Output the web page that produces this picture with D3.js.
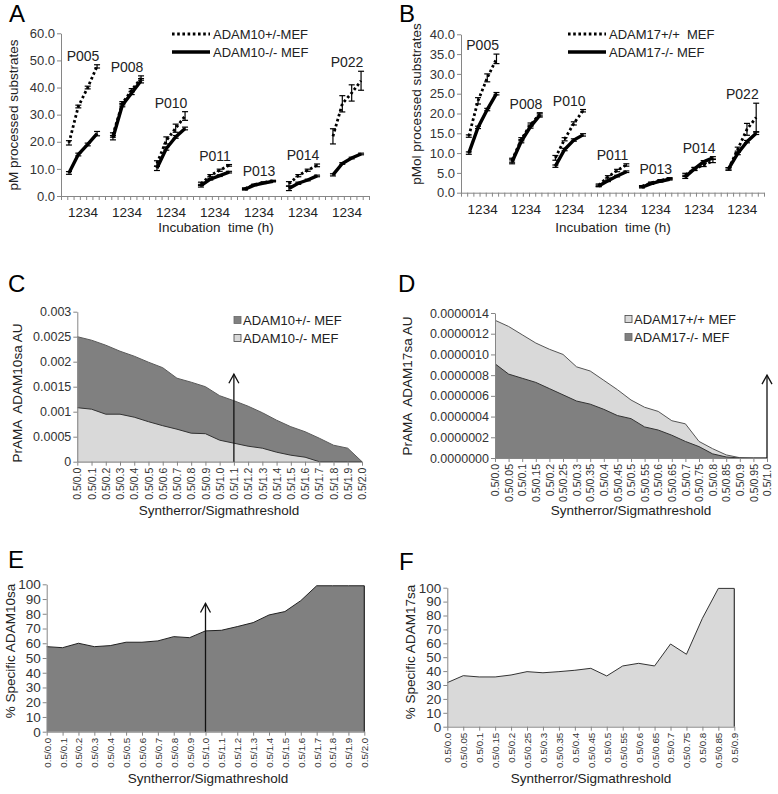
<!DOCTYPE html>
<html>
<head>
<meta charset="utf-8">
<script src="https://cdn.jsdelivr.net/npm/d3@7"></script>
<style>
  body { margin: 0; background: #fff; }
  svg { font-family: Arial, "Liberation Sans", sans-serif; }
  text { white-space: pre; }
</style>
</head>
<body>
<svg id="fig" width="778" height="794"></svg>
<script>
// ---------- data ----------
const hours = [1, 2, 3, 4];
const peptides = ['P005', 'P008', 'P010', 'P011', 'P013', 'P014', 'P022'];

// A: pM processed substrates, ADAM10+/- and ADAM10-/- MEF (one row per peptide)
const a10Het = [[19.6, 33.0, 40.0, 47.8], [22.5, 34.2, 39.0, 43.5], [12.0, 20.5, 25.0, 29.5],
  [4.5, 7.5, 9.5, 11.3], [2.7, 4.2, 5.0, 5.6], [4.5, 7.5, 9.5, 11.3], [22.0, 34.0, 38.0, 42.5]];
const a10HetErr = [[0.8, 0.5, 0.5, 0.6], [0.8, 0.6, 0.6, 0.8], [1.0, 1.3, 1.5, 1.6],
  [0.6, 0.4, 0.4, 0.3], [0.3, 0.2, 0.2, 0.2], [0.8, 0.4, 0.4, 0.5], [2.8, 3.0, 3.0, 3.5]];
const a10Ko = [[8.5, 15.3, 19.0, 23.0], [21.5, 33.5, 38.0, 42.5], [10.2, 17.5, 21.8, 24.9],
  [3.8, 6.2, 7.5, 8.8], [2.5, 4.0, 4.8, 5.4], [2.8, 4.7, 5.9, 7.4], [7.8, 12.0, 14.0, 15.5]];
const a10KoErr = [[0.5, 0.5, 0.5, 0.8], [0.8, 0.6, 0.6, 0.8], [0.8, 0.6, 0.5, 0.5],
  [0.5, 0.3, 0.3, 0.3], [0.3, 0.2, 0.2, 0.2], [0.8, 0.4, 0.3, 0.3], [0.4, 0.3, 0.3, 0.3]];

// B: pMol processed substrates, ADAM17+/+ and ADAM17-/- MEF
const b17Wt = [[14.3, 23.2, 29.0, 33.8], [8.2, 13.5, 17.2, 19.8], [8.8, 13.5, 17.5, 20.7],
  [1.9, 4.0, 5.6, 7.0], [1.6, 2.5, 3.1, 3.6], [4.5, 6.0, 7.0, 8.0], [6.0, 11.0, 16.0, 19.0]];
const b17WtErr = [[0.3, 0.8, 1.0, 1.2], [0.5, 0.4, 0.4, 0.4], [0.6, 0.4, 0.4, 0.3],
  [0.3, 0.3, 0.3, 0.3], [0.2, 0.2, 0.2, 0.2], [0.4, 0.4, 0.4, 0.4], [0.3, 0.5, 1.5, 3.6]];
const b17Ko = [[10.0, 16.5, 21.0, 25.0], [7.8, 13.0, 16.7, 19.5], [6.7, 10.9, 13.3, 14.6],
  [1.7, 3.0, 4.2, 5.3], [1.4, 2.3, 2.9, 3.4], [4.0, 6.0, 7.8, 8.8], [6.0, 9.9, 12.9, 15.0]];
const b17KoErr = [[0.3, 0.3, 0.3, 0.3], [0.5, 0.4, 0.4, 0.4], [0.3, 0.3, 0.3, 0.3],
  [0.2, 0.2, 0.2, 0.2], [0.2, 0.2, 0.2, 0.2], [0.4, 0.3, 0.3, 0.3], [0.3, 0.3, 0.3, 0.3]];

// C / E: thresholds for ADAM10
const thrC = ['0.5/0.0', '0.5/0.1', '0.5/0.2', '0.5/0.3', '0.5/0.4', '0.5/0.5', '0.5/0.6',
  '0.5/0.7', '0.5/0.8', '0.5/0.9', '0.5/1.0', '0.5/1.1', '0.5/1.2', '0.5/1.3', '0.5/1.4',
  '0.5/1.5', '0.5/1.6', '0.5/1.7', '0.5/1.8', '0.5/1.9', '0.5/2.0'];
const c10Het = [0.0025, 0.00243, 0.00233, 0.00221, 0.00211, 0.00199, 0.00188, 0.00167, 0.00159,
  0.0015, 0.00132, 0.00122, 0.00111, 0.00098, 0.00083, 0.0007, 0.0006, 0.00047, 0.00033, 0.00027, 0];
const c10Ko = [0.00108, 0.00105, 0.00095, 0.00095, 0.00089, 0.0008, 0.00072, 0.00065, 0.00057,
  0.00056, 0.00043, 0.00037, 0.00031, 0.00027, 0.00019, 0.00013, 0.00009, 0, 0, 0, 0];
const e10Specific = [57.7, 57.0, 60.0, 57.7, 58.4, 60.7, 60.7, 61.6, 64.5, 63.8, 68.4, 68.8,
  71.3, 74.0, 79.2, 81.5, 88.9, 99, 99, 99, 99];

// D / F: thresholds for ADAM17
const thrD = ['0.5/0.0', '0.5/0.05', '0.5/0.1', '0.5/0.15', '0.5/0.2', '0.5/0.25', '0.5/0.3',
  '0.5/0.35', '0.5/0.4', '0.5/0.45', '0.5/0.5', '0.5/0.55', '0.5/0.6', '0.5/0.65', '0.5/0.7',
  '0.5/0.75', '0.5/0.8', '0.5/0.85', '0.5/0.9', '0.5/0.95', '0.5/1.0'];
const d17Wt = [1.33e-6, 1.27e-6, 1.19e-6, 1.11e-6, 1.05e-6, 1.0e-6, 0.88e-6, 0.84e-6, 0.75e-6,
  0.66e-6, 0.56e-6, 0.49e-6, 0.45e-6, 0.36e-6, 0.33e-6, 0.16e-6, 0.09e-6, 0.03e-6, 0.003e-6, 0, 0];
const d17Ko = [0.91e-6, 0.81e-6, 0.77e-6, 0.73e-6, 0.67e-6, 0.61e-6, 0.55e-6, 0.52e-6, 0.47e-6,
  0.41e-6, 0.38e-6, 0.30e-6, 0.27e-6, 0.22e-6, 0.16e-6, 0.11e-6, 0.04e-6, 0.01e-6, 0, 0, 0];
const thrF = thrD.slice(0, 19);
const f17Specific = [31.7, 36.7, 35.8, 35.8, 37.2, 39.6, 38.8, 39.6, 40.6, 42.0, 36.5, 43.7,
  45.6, 43.7, 59.5, 52.1, 78.0, 99.5, 99.5];

// ---------- drawing ----------
const svg = d3.select('#fig');
const axisColor = '#868686';
const dark = '#808080';
const light = '#d9d9d9';

function styleAxis(sel, fontSize) {
  sel.select('.domain').attr('stroke', axisColor);
  sel.selectAll('.tick line').attr('stroke', axisColor);
  sel.selectAll('.tick text').attr('fill', '#333').style('font-size', fontSize + 'px');
}

function letter(t, x, y) {
  svg.append('text').attr('x', x).attr('y', y).style('font-size', '24px').text(t);
}

function yTitle(t, x, y) {
  svg.append('text').attr('transform', `translate(${x},${y}) rotate(-90)`)
    .attr('text-anchor', 'middle').style('font-size', '13.5px').attr('fill', '#222').text(t);
}

function xTitle(t, x, y) {
  svg.append('text').attr('x', x).attr('y', y).attr('text-anchor', 'middle')
    .style('font-size', '13.5px').attr('fill', '#222').text(t);
}

// time course panels (A, B)
function timePanel(o) {
  const g = svg.append('g');
  const x = d3.scaleLinear().domain([0, peptides.length]).range([o.left, o.right]);
  const y = d3.scaleLinear().domain([0, o.yMax]).range([o.bottom, o.top]);
  const px = (gi, hi) => x(gi + 0.5 + (hours[hi] - 2.5) * 0.213);

  g.append('g').attr('transform', `translate(${o.left},0)`)
    .call(d3.axisLeft(y).tickValues(d3.range(0, o.yMax + 0.01, o.yStep))
      .tickFormat(d3.format('.1f')).tickSize(4).tickSizeOuter(0).tickPadding(2))
    .call(s => styleAxis(s, 13));

  g.append('g').attr('transform', `translate(0,${o.bottom})`)
    .call(d3.axisBottom(x).tickValues(d3.range(0, peptides.length * 7 + 1).map(i => i / 7))
      .tickFormat('').tickSize(4).tickSizeOuter(0))
    .call(s => styleAxis(s, 12));

  g.selectAll('.hrs').data(peptides).join('text')
    .attr('x', (d, i) => x(i + 0.5)).attr('y', o.bottom + 21)
    .attr('text-anchor', 'middle').style('font-size', '13.5px').attr('fill', '#222')
    .text(hours.join(''));

  const series = [
    { vals: o.s1, err: o.e1, dash: '2.6,2.6', w: 2.8 },
    { vals: o.s2, err: o.e2, dash: null, w: 3.4 }
  ];
  series.forEach(s => {
    peptides.forEach((p, gi) => {
      const line = d3.line().x((v, hi) => px(gi, hi)).y(v => y(v));
      g.append('path').datum(s.vals[gi]).attr('d', line)
        .attr('fill', 'none').attr('stroke', '#000').attr('stroke-width', s.w)
        .attr('stroke-dasharray', s.dash);
      const eb = g.append('g').attr('stroke', '#000').attr('stroke-width', 1.2);
      s.vals[gi].forEach((v, hi) => {
        const cx = px(gi, hi), lo = y(v - s.err[gi][hi]), hiY = y(v + s.err[gi][hi]);
        eb.append('line').attr('x1', cx).attr('x2', cx).attr('y1', lo).attr('y2', hiY);
        eb.append('line').attr('x1', cx - 3).attr('x2', cx + 3).attr('y1', lo).attr('y2', lo);
        eb.append('line').attr('x1', cx - 3).attr('x2', cx + 3).attr('y1', hiY).attr('y2', hiY);
      });
    });
  });

  // peptide labels above each group
  g.selectAll('.pep').data(peptides).join('text')
    .attr('x', (d, i) => x(i + 0.5))
    .attr('y', (d, i) => {
      const top = d3.max([...o.s1[i].map((v, k) => v + o.e1[i][k]), ...o.s2[i].map((v, k) => v + o.e2[i][k])]);
      return y(top) - 4;
    })
    .attr('text-anchor', 'middle').style('font-size', '14px').attr('fill', '#222').text(d => d);

  // legend
  const lg = g.append('g');
  [[o.names[0], '2.6,2.6', 2.8], [o.names[1], null, 3.4]].forEach((d, i) => {
    const ly = o.legY + i * 18;
    lg.append('line').attr('x1', o.legX).attr('x2', o.legX + 38).attr('y1', ly).attr('y2', ly)
      .attr('stroke', '#000').attr('stroke-width', d[2]).attr('stroke-dasharray', d[1]);
    lg.append('text').attr('x', o.legX + 41).attr('y', ly).attr('dy', '0.35em')
      .style('font-size', '13px').attr('fill', '#222').text(d[0]);
  });
}

// threshold area panels (C, D, E, F)
function areaPanel(o) {
  const g = svg.append('g');
  const x = d3.scalePoint().domain(o.cats).range([o.left, o.right]);
  const y = d3.scaleLinear().domain([0, o.yMax]).range([o.bottom, o.top]);
  const area = d3.area().x((d, i) => x(o.cats[i])).y0(y(0)).y1(d => y(d));
  const line = d3.line().x((d, i) => x(o.cats[i])).y(d => y(d));

  o.series.forEach(s => {
    g.append('path').datum(s.vals).attr('d', area).attr('fill', s.fill);
    g.append('path').datum(s.vals).attr('d', line).attr('fill', 'none')
      .attr('stroke', s.stroke).attr('stroke-width', 1);
    if (s.closeRight) {
      const last = s.vals[s.vals.length - 1];
      g.append('line').attr('x1', o.right).attr('x2', o.right).attr('y1', y(last)).attr('y2', y(0))
        .attr('stroke', s.stroke).attr('stroke-width', 1.2);
    }
  });

  g.append('g').attr('transform', `translate(${o.left},0)`)
    .call(d3.axisLeft(y).tickValues(o.yTicks).tickFormat(o.fmt).tickSize(4).tickSizeOuter(0).tickPadding(2))
    .call(s => styleAxis(s, o.yFont));

  g.append('g').attr('transform', `translate(0,${o.bottom})`)
    .call(d3.axisBottom(x).tickSize(4).tickSizeOuter(0))
    .call(s => styleAxis(s, o.xFont))
    .selectAll('.tick text')
    .attr('transform', 'rotate(-90)').attr('x', -6).attr('y', 0).attr('dy', '0.35em')
    .attr('text-anchor', 'end');

  if (o.arrow) {
    const ax = x(o.arrow.cat), ay = y(o.arrow.tip);
    const ag = g.append('g').attr('stroke', '#111').attr('stroke-width', 1.3).attr('fill', 'none');
    ag.append('line').attr('x1', ax).attr('x2', ax).attr('y1', y(0)).attr('y2', ay);
    ag.append('path').attr('d', `M${ax - 5},${ay + 9}L${ax},${ay}L${ax + 5},${ay + 9}`);
  }

  if (o.legend) {
    o.legend.forEach((d, i) => {
      const ly = o.legY + i * 18;
      g.append('rect').attr('x', o.legX).attr('y', ly - 3.5).attr('width', 7).attr('height', 7)
        .attr('fill', d.fill).attr('stroke', d.stroke).attr('stroke-width', 0.8);
      g.append('text').attr('x', o.legX + 9).attr('y', ly).attr('dy', '0.35em')
        .style('font-size', '13px').attr('fill', '#222').text(d.name);
    });
  }
}

// ---------- panels ----------
letter('A', 9, 22);
timePanel({ left: 61, right: 369, top: 33.3, bottom: 196, yMax: 60, yStep: 10,
  s1: a10Het, e1: a10HetErr, s2: a10Ko, e2: a10KoErr,
  names: ['ADAM10+/-MEF', 'ADAM10-/- MEF'], legX: 172, legY: 34 });
yTitle('pM processed substrates', 18, 115);
xTitle('Incubation  time (h)', 216, 232);

letter('B', 399, 22);
timePanel({ left: 461, right: 764, top: 34.3, bottom: 192.7, yMax: 40, yStep: 5,
  s1: b17Wt, e1: b17WtErr, s2: b17Ko, e2: b17KoErr,
  names: ['ADAM17+/+  MEF', 'ADAM17-/- MEF'], legX: 568, legY: 34 });
yTitle('pMol processed substrates', 421, 104);
xTitle('Incubation  time (h)', 613, 232);

letter('C', 8, 292);
areaPanel({ cats: thrC, left: 77.3, right: 362, top: 311.7, bottom: 461.7, yMax: 0.003,
  yTicks: d3.range(0, 7).map(i => i * 0.0005), fmt: d => String(+d.toFixed(4)), yFont: 12.5, xFont: 10.5,
  series: [{ vals: c10Het, fill: dark, stroke: '#5a5a5a' }, { vals: c10Ko, fill: light, stroke: '#333' }],
  arrow: { cat: '0.5/1.1', tip: 0.00175 },
  legend: [{ name: 'ADAM10+/- MEF', fill: dark, stroke: '#666' }, { name: 'ADAM10-/- MEF', fill: light, stroke: '#444' }],
  legX: 234, legY: 320 });
yTitle('PrAMA  ADAM10sa AU', 22, 393);
xTitle('Syntherror/Sigmathreshold', 219, 515);

letter('D', 398, 292);
areaPanel({ cats: thrD, left: 495, right: 767, top: 313, bottom: 458, yMax: 1.4e-6,
  yTicks: d3.range(0, 8).map(i => i * 2e-7), fmt: d => d.toFixed(7), yFont: 12.5, xFont: 10.5,
  series: [{ vals: d17Wt, fill: light, stroke: '#555' }, { vals: d17Ko, fill: dark, stroke: '#333' }],
  arrow: { cat: '0.5/1.0', tip: 0.8e-6 },
  legend: [{ name: 'ADAM17+/+ MEF', fill: light, stroke: '#444' }, { name: 'ADAM17-/- MEF', fill: dark, stroke: '#666' }],
  legX: 625, legY: 319 });
yTitle('PrAMA  ADAM17sa AU', 412, 386);
xTitle('Syntherror/Sigmathreshold', 631, 515);

letter('E', 8, 568);
areaPanel({ cats: thrC, left: 46.7, right: 364.3, top: 584.3, bottom: 731.7, yMax: 100,
  yTicks: d3.range(0, 101, 10), fmt: d3.format('d'), yFont: 13.5, xFont: 9.8,
  series: [{ vals: e10Specific, fill: dark, stroke: '#222', closeRight: true }],
  arrow: { cat: '0.5/1.0', tip: 87 } });
yTitle('% Specific ADAM10sa', 15, 651);
xTitle('Syntherror/Sigmathreshold', 208, 783);

letter('F', 399, 570);
areaPanel({ cats: thrF, left: 447.3, right: 734.3, top: 587.7, bottom: 726.7, yMax: 100,
  yTicks: d3.range(0, 101, 10), fmt: d3.format('d'), yFont: 13.5, xFont: 9.8,
  series: [{ vals: f17Specific, fill: light, stroke: '#333', closeRight: true }] });
yTitle('% Specific ADAM17sa', 415, 652);
xTitle('Syntherror/Sigmathreshold', 591, 783);
</script>
</body>
</html>
